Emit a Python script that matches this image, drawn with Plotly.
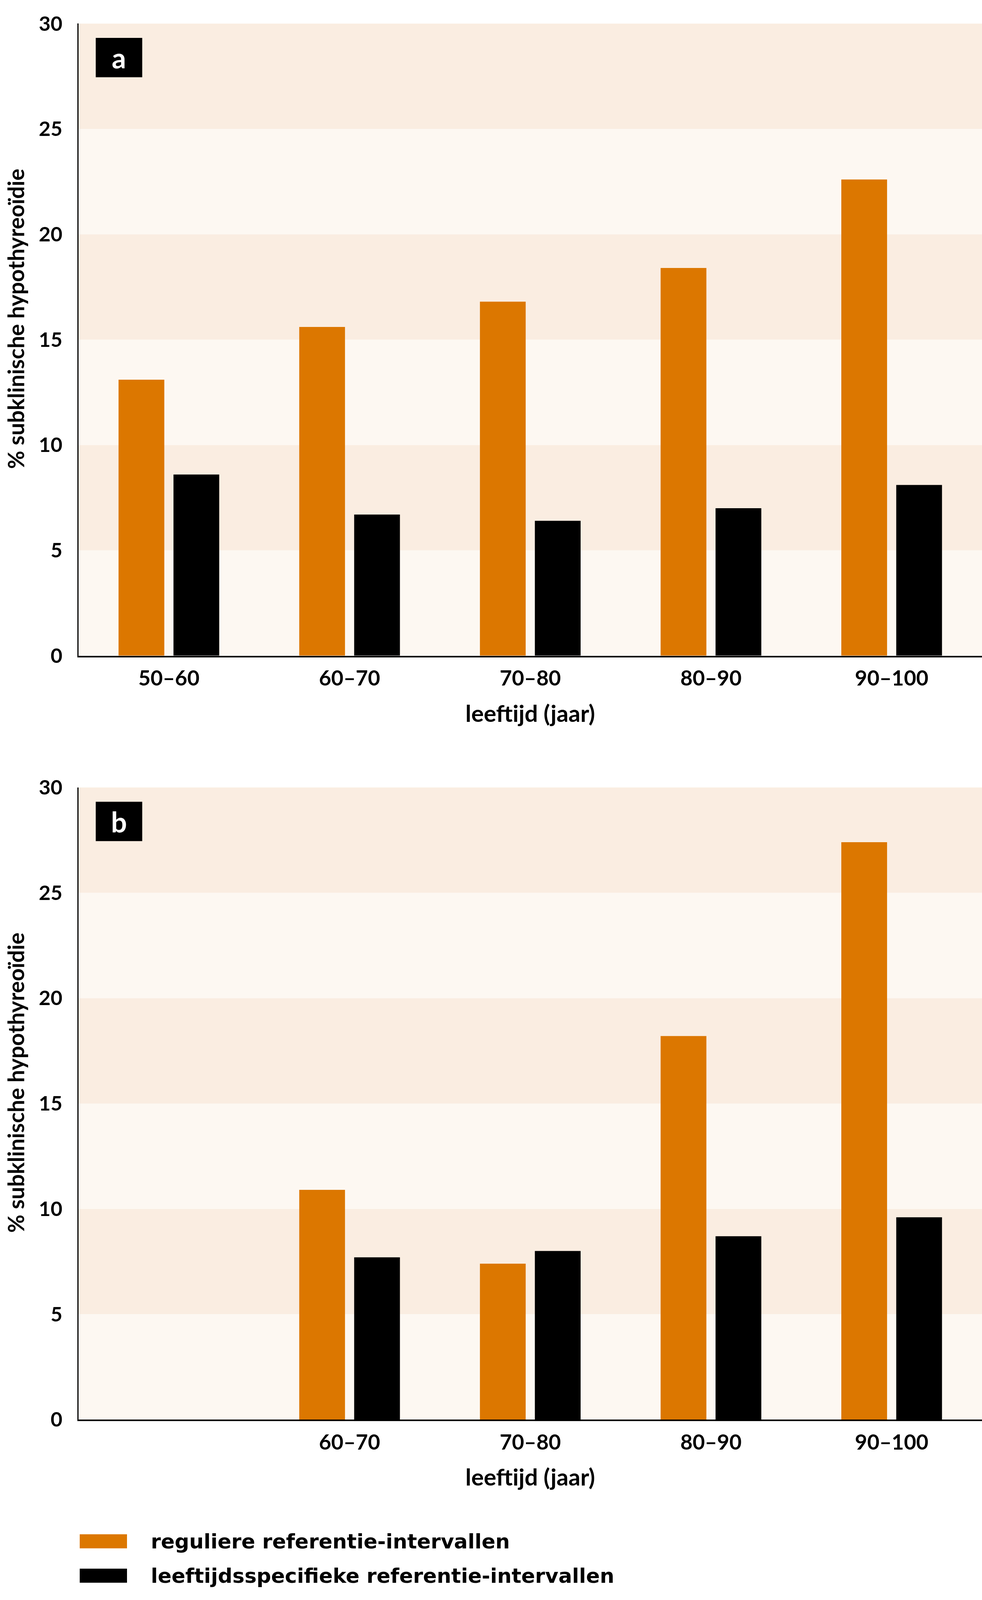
import plotly.graph_objects as go

# The viewer's viewport is 2513 x 4096, so the 2513 x 4724 reference layout
# is mapped proportionally (vertically) into a 2513 x 4096 figure.
W, H_REF, H = 2513, 4724, 4096
F = H / H_REF

# ---------------- data ----------------
categories = ["50–60", "60–70", "70–80", "80–90", "90–100"]
ticklabels_a = ["50–60", "60–70", "70–80", "80–90", "90–100"]
ticklabels_b = ["", "60–70", "70–80", "80–90", "90–100"]
regulier_a = [13.1, 15.6, 16.8, 18.4, 22.6]
leeftijd_a = [8.6, 6.7, 6.4, 7.0, 8.1]
regulier_b = [None, 10.9, 7.4, 18.2, 27.4]
leeftijd_b = [None, 7.7, 8.0, 8.7, 9.6]
y_ticks = [0, 5, 10, 15, 20, 25, 30]
series_names = ["reguliere referentie-intervallen",
                "leeftijdsspecifieke referentie-intervallen"]
panel_labels = ["a", "b"]
x_title = "leeftijd (jaar)"
y_title = "% subklinische hypothyreoïdie"

# ---------------- style ----------------
ORANGE = "#DC7700"
BLACK = "#000000"
BAND_DARK = "#FAEDE1"
BAND_LIGHT = "#FDF8F2"
FONT = "Lato"
LEG_FONT = "DejaVu Sans"


def px(x):
    return x / W


def py(y_ref):
    """reference-pixel y (from top) -> paper y"""
    return 1 - (y_ref * F) / H


panels = [
    dict(top=32, bottom=1927, xa="x", ya="y", ticktext=ticklabels_a,
         reg=regulier_a, age=leeftijd_a, label=panel_labels[0]),
    dict(top=2322, bottom=4217, xa="x2", ya="y2", ticktext=ticklabels_b,
         reg=regulier_b, age=leeftijd_b, label=panel_labels[1]),
]
LEFT = 201

fig = go.Figure()
shapes = []
annotations = []

for i, p in enumerate(panels):
    fig.add_trace(go.Bar(x=categories, y=p["reg"], name=series_names[0],
                         marker=dict(color=ORANGE, line=dict(width=0)),
                         xaxis=p["xa"], yaxis=p["ya"], showlegend=False))
    fig.add_trace(go.Bar(x=categories, y=p["age"], name=series_names[1],
                         marker=dict(color=BLACK, line=dict(width=0)),
                         xaxis=p["xa"], yaxis=p["ya"], showlegend=False))
    sfx = "" if i == 0 else "2"
    fig.layout["xaxis" + sfx] = dict(
        domain=[px(LEFT), 1], anchor="y" + sfx, type="category",
        categoryorder="array", categoryarray=categories,
        range=[-0.5, 4.5], tickvals=categories, ticktext=p["ticktext"],
        showline=True, linecolor=BLACK, linewidth=4, ticks="",
        showgrid=False, zeroline=False, ticklabelstandoff=8,
        tickfont=dict(family=FONT, size=54, color=BLACK, weight=700),
        fixedrange=True)
    fig.layout["yaxis" + sfx] = dict(
        domain=[py(p["bottom"]), py(p["top"])], anchor="x" + sfx,
        range=[0, 30], tickvals=y_ticks, ticktext=[str(v) for v in y_ticks],
        showline=True, linecolor=BLACK, linewidth=3, ticks="",
        showgrid=False, zeroline=False, ticklabelstandoff=28,
        tickfont=dict(family=FONT, size=52, color=BLACK, weight=700),
        fixedrange=True)
    for k in range(len(y_ticks) - 1):
        shapes.append(dict(type="rect", xref=p["xa"] + " domain", x0=0, x1=1,
                           yref=p["ya"], y0=y_ticks[k], y1=y_ticks[k + 1],
                           fillcolor=BAND_DARK if k % 2 == 1 else BAND_LIGHT,
                           line=dict(width=0), layer="below"))
    shapes.append(dict(type="rect", xref="paper", yref="paper",
                       x0=px(245), x1=px(364),
                       y0=py(p["top"] + 161), y1=py(p["top"] + 43),
                       fillcolor=BLACK, line=dict(width=0), layer="above"))
    annotations.append(dict(text=p["label"], xref="paper", yref="paper",
                            x=px(304.5), y=py(p["top"] + 102),
                            xanchor="center", yanchor="middle", showarrow=False,
                            font=dict(family=FONT, size=72, color="white",
                                      weight=700)))
    annotations.append(dict(text=x_title, xref="paper", yref="paper",
                            x=px((LEFT + W) / 2), y=py(p["bottom"] + 171),
                            xanchor="center", yanchor="middle", showarrow=False,
                            font=dict(family=FONT, size=60, color=BLACK,
                                      weight=700)))
    annotations.append(dict(text=y_title, xref="paper", yref="paper",
                            x=px(40), y=py((p["top"] + p["bottom"]) / 2 - 62),
                            xanchor="center", yanchor="middle", showarrow=False,
                            textangle=-90,
                            font=dict(family=FONT, size=57, color=BLACK,
                                      weight=700)))

legend_rows = [(4582, ORANGE, series_names[0]), (4685, BLACK, series_names[1])]
for yc, col, name in legend_rows:
    shapes.append(dict(type="rect", xref="paper", yref="paper",
                       x0=px(204), x1=px(325), y0=py(yc + 21), y1=py(yc - 21),
                       fillcolor=col, line=dict(width=0)))
    annotations.append(dict(text=name, xref="paper", yref="paper",
                            x=px(384), y=py(yc), xanchor="left", yanchor="middle",
                            showarrow=False,
                            font=dict(family=LEG_FONT, size=52, color=BLACK,
                                      weight=700)))

fig.update_layout(
    width=W, height=H,
    margin=dict(l=0, r=0, t=0, b=0),
    paper_bgcolor="white", plot_bgcolor="white",
    barmode="group", bargap=0.392, bargroupgap=0.167,
    shapes=shapes, annotations=annotations,
    showlegend=False,
    font=dict(family=FONT, color=BLACK),
)

# remove the default page margin so the figure fills the viewport exactly
page_css = """
document.body.style.margin = '0';
document.body.style.overflow = 'hidden';
"""

fig.write_html("out.html", post_script=page_css,
               config={"displayModeBar": False})
